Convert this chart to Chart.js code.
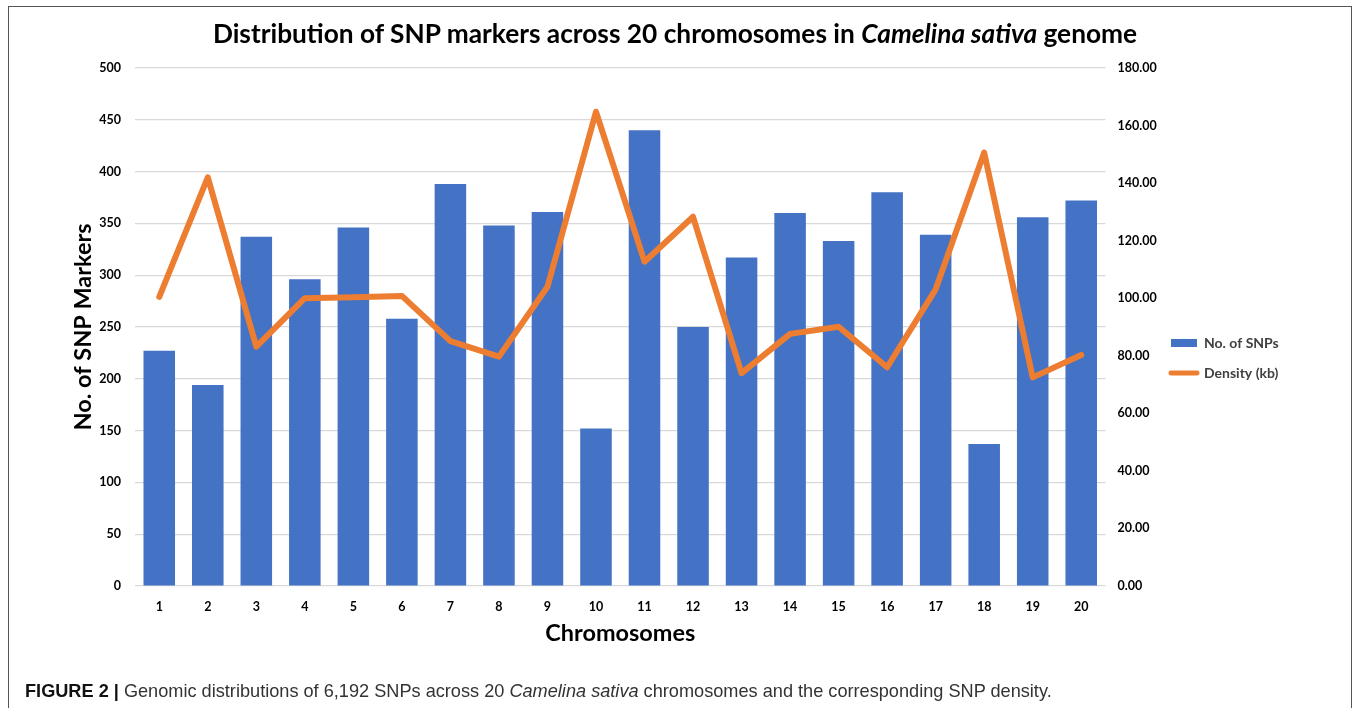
<!DOCTYPE html>
<html>
<head>
<meta charset="utf-8">
<script src="https://cdn.jsdelivr.net/npm/chart.js@4.4.1/dist/chart.umd.min.js"></script>
<style>
html,body{margin:0;padding:0;background:#fff;}
#wrap{position:relative;width:1357px;height:708px;overflow:hidden;background:#fff;}
#frame{position:absolute;left:8px;top:6px;width:1344px;height:740px;border:1px solid #555;box-sizing:border-box;}
#title{position:absolute;left:0;width:1350px;text-align:center;font-family:Lato,sans-serif;font-weight:bold;color:#000;white-space:nowrap;line-height:1;}
#caption{position:absolute;left:25px;font-family:'Liberation Sans',Arial,sans-serif;color:#333;white-space:nowrap;line-height:1;}
#caption b{color:#111;}
#chart{position:absolute;left:0;top:0;}
</style>
</head>
<body>
<div id="wrap">
  <div id="frame"></div>
  <canvas id="chart" width="1357" height="708"></canvas>
  <div id="title"><span>Distribution of SNP markers across 20 chromosomes in <i>Camelina sativa</i> genome</span></div>
  <div id="caption"><span><b>FIGURE 2 |</b> Genomic distributions of 6,192 SNPs across 20 <i>Camelina sativa</i> chromosomes and the corresponding SNP density.</span></div>
</div>
<script>
// ---- data ----
const chromosomes = ['1','2','3','4','5','6','7','8','9','10','11','12','13','14','15','16','17','18','19','20'];
const snpCounts = [227,194,337,296,346,258,388,348,361,152,440,250,317,360,333,380,339,137,356,372];
const densityKb = [100.5,142.0,83.2,100.0,100.3,100.8,85.1,79.7,104.0,164.8,112.7,128.3,74.0,87.6,90.1,76.0,103.1,150.6,72.5,80.3];
const seriesNames = ['No. of SNPs','Density (kb)'];
const leftAxisTitle = 'No. of SNP Markers';
const bottomAxisTitle = 'Chromosomes';
const leftTickRange = [0, 500, 50];
const rightTickRange = [0, 180, 20];

// ---- helpers ----
function fitSize(text, weight, family, target){
  const c = document.createElement('canvas').getContext('2d');
  c.font = weight + ' 100px ' + family;
  return 100 * target / c.measureText(text).width;
}
function fitHtml(el, target, baseline, ascentRatio){
  let fs = 20;
  el.style.fontSize = fs + 'px';
  const w = el.querySelector('span').getBoundingClientRect().width;
  fs = fs * target / w;
  el.style.fontSize = fs + 'px';
  el.style.top = (baseline - ascentRatio * fs) + 'px';
}
fitHtml(document.getElementById('title'), 925, 43, 0.887);
fitHtml(document.getElementById('caption'), 1028, 697.5, 0.8465);

const yTitleSize = fitSize(leftAxisTitle, 'bold', 'Lato', 207);
const xTitleSize = fitSize(bottomAxisTitle, 'bold', 'Lato', 150);

const BLUE = '#4472C4';
const ORANGE = '#ED7D31';

const legendPlacer = {
  id: 'legendPlacer',
  afterLayout(chart){
    const lg = chart.legend;
    if (!lg) return;
    const w = lg.width, h = lg.height;
    lg.left = 1155; lg.right = lg.left + w;
    lg.top = 320; lg.bottom = lg.top + h;
  }
};

new Chart(document.getElementById('chart'), {
  type: 'bar',
  data: {
    labels: chromosomes,
    datasets: [
      {
        type: 'bar',
        label: seriesNames[0],
        data: snpCounts,
        yAxisID: 'y',
        backgroundColor: BLUE,
        borderWidth: 0,
        barPercentage: 0.65,
        categoryPercentage: 1.0,
        order: 1
      },
      {
        type: 'line',
        label: seriesNames[1],
        data: densityKb,
        yAxisID: 'y1',
        borderColor: ORANGE,
        backgroundColor: ORANGE,
        borderWidth: 6,
        pointRadius: 0,
        pointHoverRadius: 0,
        tension: 0,
        borderJoinStyle: 'round',
        borderCapStyle: 'round',
        order: 0
      }
    ]
  },
  options: {
    responsive: false,
    animation: false,
    devicePixelRatio: 1,
    layout: { padding: { left: 65, right: 200, top: 68, bottom: 56.4 } },
    plugins: {
      title: { display: false },
      tooltip: { enabled: false },
      legend: {
        position: 'chartArea',
        align: 'start',
        labels: {
          usePointStyle: true,
          pointStyleWidth: 26,
          boxHeight: 8,
          padding: 16,
          color: '#404040',
          font: { family: 'Lato', size: 14, weight: 'bold' },
          generateLabels(chart){
            return [
              { text: seriesNames[0], fillStyle: BLUE, strokeStyle: BLUE, lineWidth: 0, pointStyle: 'rect', datasetIndex: 0, fontColor: '#404040' },
              { text: seriesNames[1], fillStyle: ORANGE, strokeStyle: ORANGE, lineWidth: 5, lineCap: 'round', pointStyle: 'line', datasetIndex: 1, fontColor: '#404040' }
            ];
          }
        }
      }
    },
    scales: {
      x: {
        grid: { display: false },
        border: { display: false },
        ticks: { color: '#000', padding: 5, font: { family: 'Lato', size: 12.5, weight: 'bold' } },
        title: { display: true, text: bottomAxisTitle, color: '#000', padding: { top: 0, bottom: 4 }, font: { family: 'Lato', size: xTitleSize, weight: 'bold' } },
        afterFit(s){ s.height = 65.6; }
      },
      y: {
        position: 'left',
        min: leftTickRange[0], max: leftTickRange[1],
        grid: { color: '#D9D9D9', lineWidth: 1.2, drawTicks: false },
        border: { display: false },
        ticks: { stepSize: leftTickRange[2], color: '#000', padding: 14, font: { family: 'Lato', size: 12.5, weight: 'bold' } },
        title: { display: true, text: leftAxisTitle, color: '#000', padding: { top: 4, bottom: 0 }, font: { family: 'Lato', size: yTitleSize, weight: 'bold' } },
        afterFit(s){ s.width = 70; }
      },
      y1: {
        position: 'right',
        min: rightTickRange[0], max: rightTickRange[1],
        grid: { display: false, drawTicks: false },
        border: { display: false },
        ticks: { stepSize: rightTickRange[2], color: '#000', padding: 12, font: { family: 'Lato', size: 12.5, weight: 'bold' }, callback: v => Number(v).toFixed(2) },
        afterFit(s){ s.width = 51.5; }
      }
    }
  },
  plugins: [legendPlacer]
});
</script>
</body>
</html>
